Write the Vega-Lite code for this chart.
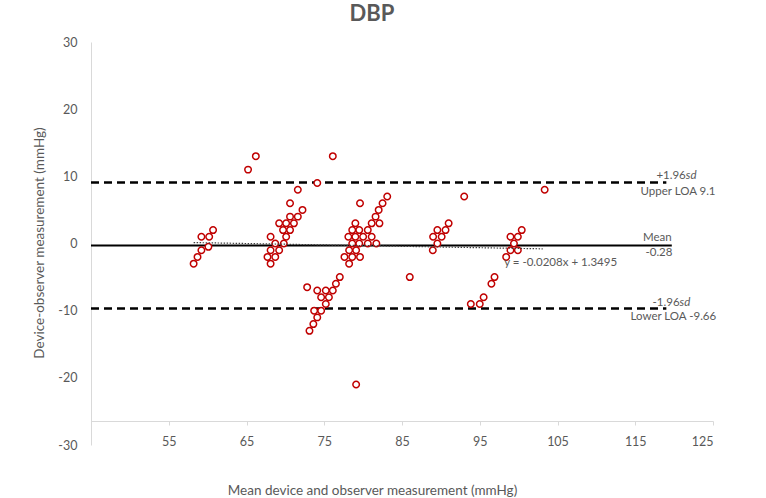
{
  "$schema": "https://vega.github.io/schema/vega-lite/v6.json",
  "autosize": {"type": "none"},
  "width": 622,
  "height": 403,
  "padding": {"left": 91, "top": 42, "right": 53, "bottom": 53},
  "background": "white",
  "config": {"view": {"stroke": null}, "font": "Lato"},
  "title": {"text": "DBP", "fontSize": 22, "fontWeight": "bold", "color": "#595959", "font": "Lato", "anchor": "middle", "offset": 10, "dx": -30},
  "datasets": {
    "points": [
      {"x": 58.2, "y": -3}, {"x": 58.7, "y": -2}, {"x": 59.2, "y": -1}, {"x": 60.1, "y": -0.5}, {"x": 59.2, "y": 1}, {"x": 60.2, "y": 1}, {"x": 60.7, "y": 2},
      {"x": 65.2, "y": 11}, {"x": 66.2, "y": 13}, {"x": 76.1, "y": 13}, {"x": 74.1, "y": 9},
      {"x": 71.6, "y": 8}, {"x": 70.6, "y": 6}, {"x": 72.2, "y": 5}, {"x": 70.6, "y": 4}, {"x": 71.6, "y": 4}, {"x": 69.2, "y": 3}, {"x": 70.1, "y": 3}, {"x": 71.1, "y": 3}, {"x": 69.7, "y": 2}, {"x": 70.6, "y": 2}, {"x": 68.1, "y": 1}, {"x": 70.1, "y": 1}, {"x": 68.7, "y": 0}, {"x": 69.8, "y": 0}, {"x": 68.1, "y": -1}, {"x": 69.2, "y": -1}, {"x": 67.7, "y": -2}, {"x": 68.7, "y": -2}, {"x": 68.1, "y": -3},
      {"x": 77.0, "y": -5}, {"x": 76.5, "y": -6}, {"x": 72.8, "y": -6.5}, {"x": 76.1, "y": -7}, {"x": 74.1, "y": -7}, {"x": 75.2, "y": -7}, {"x": 74.6, "y": -8}, {"x": 75.6, "y": -8}, {"x": 75.2, "y": -9}, {"x": 73.7, "y": -10}, {"x": 74.6, "y": -10}, {"x": 74.1, "y": -11}, {"x": 73.6, "y": -12}, {"x": 73.1, "y": -13},
      {"x": 79.6, "y": 6}, {"x": 83.1, "y": 7}, {"x": 82.5, "y": 6}, {"x": 82.0, "y": 5}, {"x": 81.6, "y": 4}, {"x": 82.1, "y": 3}, {"x": 81.1, "y": 3}, {"x": 79.0, "y": 3}, {"x": 78.6, "y": 2}, {"x": 79.5, "y": 2}, {"x": 80.6, "y": 2}, {"x": 78.1, "y": 1}, {"x": 79.0, "y": 1}, {"x": 80.0, "y": 1}, {"x": 81.1, "y": 1}, {"x": 78.6, "y": 0}, {"x": 79.5, "y": 0}, {"x": 80.6, "y": 0}, {"x": 81.7, "y": 0}, {"x": 78.2, "y": -1}, {"x": 79.1, "y": -1}, {"x": 77.6, "y": -2}, {"x": 78.6, "y": -2}, {"x": 79.6, "y": -2}, {"x": 78.2, "y": -3},
      {"x": 79.1, "y": -21}, {"x": 86.0, "y": -5},
      {"x": 93.0, "y": 7}, {"x": 91.0, "y": 3}, {"x": 89.55, "y": 2}, {"x": 90.6, "y": 2}, {"x": 89.0, "y": 1}, {"x": 90.1, "y": 1}, {"x": 89.55, "y": 0}, {"x": 88.96, "y": -1},
      {"x": 96.9, "y": -5}, {"x": 96.5, "y": -6}, {"x": 95.5, "y": -8}, {"x": 95.0, "y": -9}, {"x": 93.85, "y": -9},
      {"x": 100.4, "y": 2}, {"x": 98.95, "y": 1}, {"x": 99.9, "y": 1}, {"x": 99.4, "y": 0}, {"x": 98.95, "y": -1}, {"x": 99.9, "y": -1}, {"x": 98.4, "y": -2},
      {"x": 103.35, "y": 8}
    ],
    "loa": [{"x": 45, "x2": 119, "y": 9.1}, {"x": 45, "x2": 119, "y": -9.66}],
    "mean": [{"x": 45, "x2": 119.7, "y": -0.28}],
    "trend": [{"x": 58.2, "y": 0.139}, {"x": 103.1, "y": -0.795}],
    "labelsCenter": [
      {"x": 120.5, "y": 7.71, "t": "Upper LOA 9.1"},
      {"x": 117.85, "y": 0.82, "t": "Mean"},
      {"x": 118.05, "y": -1.41, "t": "-0.28"},
      {"x": 119.9, "y": -10.94, "t": "Lower LOA -9.66"},
      {"x": 105.4, "y": -2.86, "t": "y = -0.0208x + 1.3495"}
    ],
    "labelsRight": [
      {"x": 121.5, "y": 10.09, "t": "+1.96"},
      {"x": 120.7, "y": -8.81, "t": "-1.96"}
    ],
    "labelsItalic": [
      {"x": 121.5, "y": 10.09, "t": "sd"},
      {"x": 120.7, "y": -8.81, "t": "sd"}
    ]
  },
  "encoding": {
    "x": {
      "field": "x", "type": "quantitative",
      "scale": {"domain": [45, 125], "nice": false, "zero": false},
      "axis": {
        "values": [55, 65, 75, 85, 95, 105, 115, 125],
        "offset": -24,
        "grid": false,
        "domainColor": "#d9d9d9", "domainWidth": 1,
        "tickColor": "#d9d9d9", "tickSize": 4,
        "labelColor": "#595959", "labelFont": "Lato", "labelFontSize": 12.5,
        "labelBaseline": "alphabetic", "labelPadding": 20,
        "title": "Mean device and observer measurement (mmHg)",
        "titleFont": "Lato", "titleFontSize": 13.5, "titleFontWeight": "normal", "titleColor": "#595959",
        "titleX": 281, "titleY": 69, "titleAlign": "center", "titleBaseline": "middle"
      }
    },
    "y": {
      "field": "y", "type": "quantitative",
      "scale": {"domain": [-30, 30], "nice": false, "zero": false},
      "axis": {
        "values": [-30, -20, -10, 0, 10, 20, 30],
        "labelExpr": "datum.value + ''",
        "grid": false, "ticks": false, "tickSize": 0,
        "domainColor": "#d9d9d9", "domainWidth": 1,
        "labelColor": "#595959", "labelFont": "Lato", "labelFontSize": 12.5, "labelPadding": 14,
        "title": "Device-observer measurement (mmHg)",
        "titleFont": "Lato", "titleFontSize": 13.5, "titleFontWeight": "normal", "titleColor": "#595959",
        "titleX": -52, "titleY": 200.5, "titleAlign": "center", "titleBaseline": "middle", "titleAngle": -90
      }
    }
  },
  "layer": [
    {"data": {"name": "loa"}, "mark": {"type": "rule", "color": "black", "strokeWidth": 2.5, "strokeDash": [8, 5]}, "encoding": {"x2": {"field": "x2"}}},
    {"data": {"name": "mean"}, "mark": {"type": "rule", "color": "black", "strokeWidth": 2}, "encoding": {"x2": {"field": "x2"}}},
    {"data": {"name": "points"}, "mark": {"type": "circle", "fill": "white", "fillOpacity": 1, "opacity": 1, "stroke": "#c00000", "strokeWidth": 1.5, "size": 42}},
    {"data": {"name": "trend"}, "mark": {"type": "line", "color": "#404040", "strokeWidth": 1.2, "strokeDash": [1.5, 1.5]}, "encoding": {}},
    {"data": {"name": "labelsCenter"}, "mark": {"type": "text", "align": "center", "baseline": "middle", "font": "Lato", "fontSize": 11.5, "color": "#595959"}, "encoding": {"text": {"field": "t"}}},
    {"data": {"name": "labelsRight"}, "mark": {"type": "text", "align": "right", "baseline": "middle", "font": "Lato", "fontSize": 11.5, "color": "#595959"}, "encoding": {"text": {"field": "t"}}},
    {"data": {"name": "labelsItalic"}, "mark": {"type": "text", "align": "left", "baseline": "middle", "font": "Lato", "fontSize": 11.5, "fontStyle": "italic", "color": "#595959"}, "encoding": {"text": {"field": "t"}}}
  ]
}
